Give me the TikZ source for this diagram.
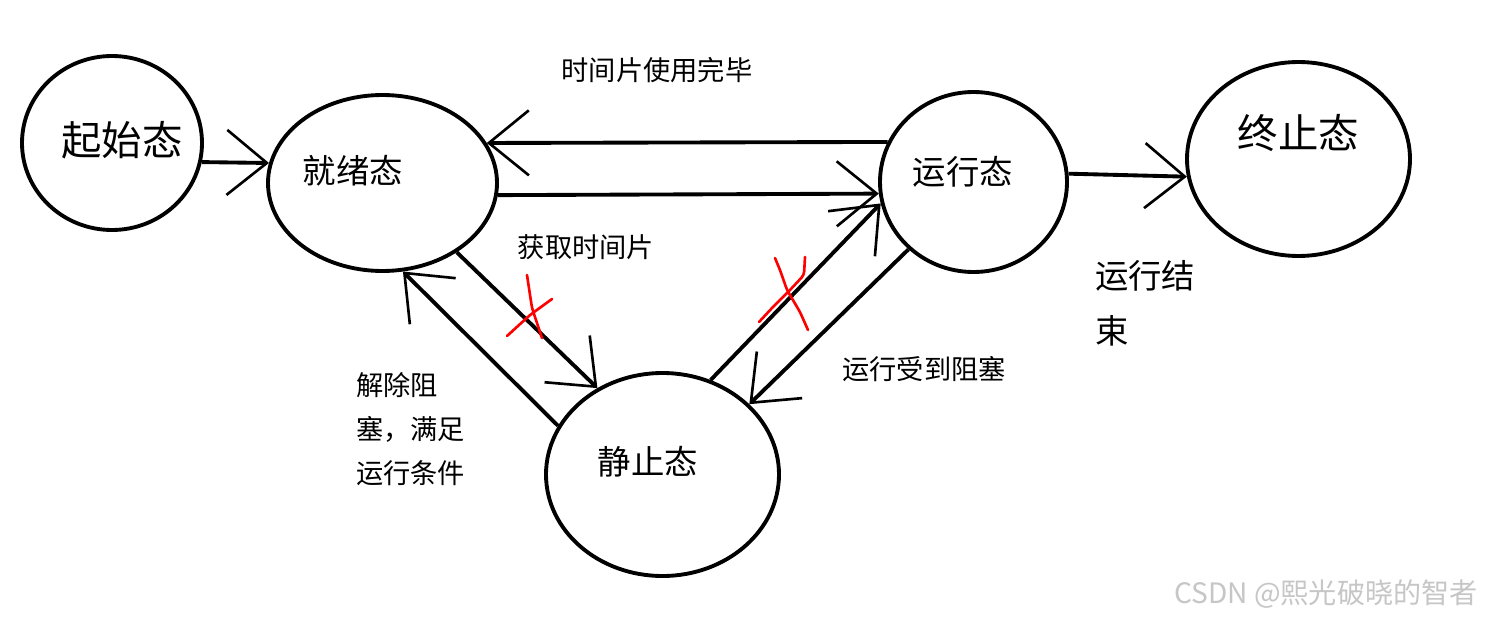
\documentclass[tikz,border=0pt]{standalone}
\usepackage{fontspec}
\setmainfont{Noto Sans CJK SC}
\usetikzlibrary{arrows.meta, shapes.geometric}

\begin{document}
\begin{tikzpicture}[
    state/.style={
        ellipse,
        draw,
        line width=2.2pt,
        inner sep=0pt
    },
    bigtxt/.style={font=\fontsize{23}{26}\selectfont},
    midtxt/.style={font=\fontsize{19}{22}\selectfont},
    note/.style={font=\fontsize{15.5}{25}\selectfont, align=left},
    arrow/.style={-{Straight Barb[length=8mm,width=13mm,line width=1.5pt]}, line width=2.2pt},
    cross/.style={red, line width=1.5pt, line cap=round, rounded corners=2pt}
]
\useasboundingbox (0,0) rectangle (29.7,12.4);
\fill[white] (0,0) rectangle (29.7,12.4);

% States
\node[state, minimum width=3.6cm, minimum height=3.48cm,
      label={[bigtxt, xshift=0.2cm, yshift=0.06cm]center:起始态}] (start) at (2.24,9.54) {};
\node[state, minimum width=4.58cm, minimum height=3.52cm,
      label={[midtxt, xshift=-0.59cm, yshift=0.24cm]center:就绪态}] (ready) at (7.65,8.74) {};
\node[state, minimum width=3.74cm, minimum height=3.6cm,
      label={[midtxt, xshift=-0.21cm, yshift=0.2cm]center:运行态}] (run) at (19.47,8.76) {};
\node[state, minimum width=4.46cm, minimum height=3.88cm,
      label={[bigtxt, yshift=0.52cm]center:终止态}] (stop) at (25.97,9.22) {};
\node[state, minimum width=4.66cm, minimum height=4.06cm,
      label={[midtxt, xshift=-0.29cm, yshift=0.25cm]center:静止态}] (wait) at (13.25,2.91) {};

% Transitions
\draw[arrow] (start.-12) -- (ready.170);
\draw[arrow] (run.155) -- (ready.21);
\draw[arrow] (ready.-6) -- (run.-173);
\draw[arrow] (ready.-43) -- (wait.127);
\draw[arrow] (wait.155) -- (ready.-77);
\draw[arrow] (wait.63) -- (run.-167);
\draw[arrow] (run.226) -- (wait.39);
\draw[arrow] (run.5) -- (stop.-171);

% Labels
\node[note] (slice) at (13.14,11.0) {时间片使用完毕};
\node[note] (get) at (11.72,7.46) {获取时间片};
\node[note] (block) at (18.48,5.02) {运行受到阻塞};
\node[note, anchor=west] (unblock) at (7.0,3.82) {解除阻\\塞，满足\\运行条件};
\node[midtxt, align=left, anchor=west, font=\fontsize{19}{31}\selectfont] (done) at (21.78,6.33) {运行结\\束};

% Red crosses
\draw[cross] (10.54,6.9) -- (10.64,6.24) -- (10.84,5.64);
\draw[cross] (11.04,6.42) -- (10.6,6.1) -- (10.14,5.68);
\draw[cross] (15.5,7.24) -- (15.6,7.0) -- (15.74,6.6) -- (16.0,6.16) -- (16.16,5.8);
\draw[cross] (16.1,7.26) -- (16.08,6.9) -- (15.8,6.6) -- (15.44,6.24) -- (15.18,5.96);

% Watermark
\node[gray!45, font=\fontsize{16}{18}\selectfont] (mark) at (26.52,0.52) {CSDN @熙光破晓的智者};

\end{tikzpicture}
\end{document}
